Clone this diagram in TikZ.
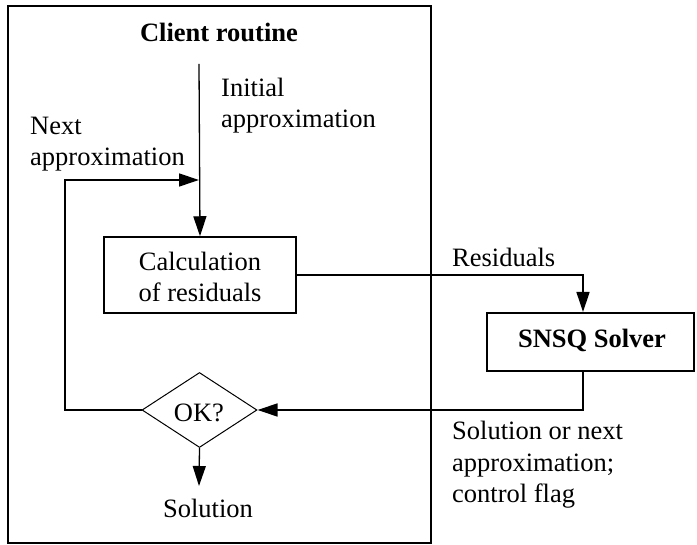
\documentclass[tikz,border=0pt]{standalone}
\usepackage{fontspec}
\setmainfont{Liberation Serif}
\usetikzlibrary{arrows.meta,shapes.geometric}
\begin{document}
\begin{tikzpicture}[x=1pt,y=-1pt,
  fnt/.style={font=\fontsize{26.5}{31.5}\selectfont},
  txt/.style={fnt, inner sep=0pt, align=left},
  arr/.style={line width=1.3pt, -{Triangle[length=20pt,width=13pt]}},
  boxA/.style={draw, line width=1.5pt, minimum width=192pt, minimum height=76pt, inner sep=0pt},
  boxB/.style={draw, line width=2pt, minimum width=207pt, minimum height=58pt, inner sep=0pt},
  dia/.style={draw, diamond, line width=1pt, minimum width=115pt, minimum height=75pt, inner sep=0pt}]
\useasboundingbox (0,0) rectangle (697,545);
\node[draw, line width=2pt, minimum width=423pt, minimum height=537pt, inner sep=0pt] (outer) at (219.5,274.5) {};
\node[txt, font=\fontsize{26.5}{31.5}\selectfont\bfseries, anchor=base] (title) at (219,42) {Client routine};
\coordinate (top) at (199,64);
\coordinate (merge) at (199,180);
\node[boxA] (calc) at (200,275) {};
\node[txt, align=center, anchor=base] (calctxt) at (200,302) {Calculation\\of residuals};
\node[boxB] (snsq) at (590.5,342) {};
\node[txt, font=\fontsize{26.5}{31.5}\selectfont\bfseries, anchor=base] (snsqtxt) at (592,348) {SNSQ Solver};
\node[dia] (ok) at (199.5,410) {};
\node[txt, anchor=base] (oktxt) at (199,422) {OK?};
\coordinate (loop) at (65,410);
\coordinate (solarr) at (199,486);
\node[txt, anchor=base] (sol) at (208,518) {Solution};
\node[txt, anchor=base west] (init) at (221,128) {Initial\\approximation};
\node[txt, anchor=base west] (next) at (30,166) {Next\\approximation};
\node[txt, anchor=base west] (res) at (452,267) {Residuals};
\node[txt, anchor=base west] (solnext) at (452,503) {Solution or next\\approximation;\\control flag};
\draw[arr] (top) -- (calc.north);
\draw[arr] (ok.west) -- (loop) |- (merge);
\draw[arr] (calc.east) -| ([xshift=-7.5pt]snsq.north);
\draw[arr] ([xshift=-7.5pt]snsq.south) |- (ok.east);
\draw[arr] (ok.south) -- (solarr);
\end{tikzpicture}
\end{document}
